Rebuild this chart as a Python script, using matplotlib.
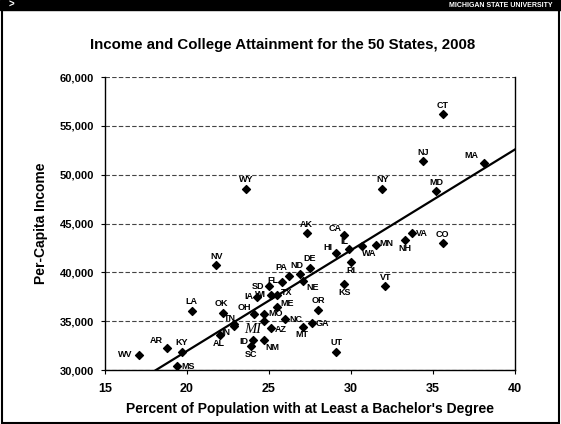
import numpy as np
import matplotlib
matplotlib.use('Agg')
import matplotlib.pyplot as plt

plt.rcParams['font.family'] = ['Liberation Sans', 'DejaVu Sans']
plt.rcParams['font.weight'] = 'bold'

# data
states = ['AL', 'AK', 'AZ', 'AR', 'CA', 'CO', 'CT', 'DE', 'FL', 'GA',
          'HI', 'ID', 'IL', 'IN', 'IA', 'KS', 'KY', 'LA', 'ME', 'MD',
          'MA', 'MI', 'MN', 'MS', 'MO', 'MT', 'NE', 'NV', 'NH', 'NJ',
          'NM', 'NY', 'NC', 'ND', 'OH', 'OK', 'OR', 'PA', 'RI', 'SC',
          'SD', 'TN', 'TX', 'UT', 'VT', 'VA', 'WA', 'WV', 'WI', 'WY']
bachelor = [22.0, 27.3, 25.1, 18.8, 29.6, 35.6, 35.6, 27.5, 25.8, 27.6,
            29.1, 24.0, 29.9, 22.9, 24.3, 29.6, 19.7, 20.3, 25.5, 35.2,
            38.1, 24.7, 31.5, 19.4, 24.7, 27.1, 27.1, 21.8, 33.3, 34.4,
            24.7, 31.9, 26.0, 26.9, 24.1, 22.2, 28.0, 26.2, 30.0, 23.9,
            25.0, 22.9, 25.5, 29.1, 32.1, 33.7, 30.7, 17.1, 25.1, 23.6]
income = [33600, 44000, 34300, 32300, 43800, 43000, 56200, 40500, 39000, 34800,
          42000, 33100, 42400, 34500, 37500, 38800, 31900, 36100, 36500, 48300,
          51200, 35000, 42800, 30400, 35800, 34400, 39100, 40800, 43300, 51400,
          33100, 48600, 35200, 39800, 35700, 35900, 36200, 39600, 41100, 32500,
          38600, 34700, 37700, 31900, 38600, 44000, 42700, 31600, 37700, 48600]
trend_x = [18.1, 40.0]
trend_y = [30000, 52600]
yticks = [30000, 35000, 40000, 45000, 50000, 55000, 60000]
xticks = [15, 20, 25, 30, 35, 40]

# label placement: (dx, dy in points, ha, va); default is centred above
label_pos = {
    'MA': (-4, 2, 'right', 'bottom'), 'NH': (0, -3, 'center', 'top'),
    'VA': (3, 0, 'left', 'center'), 'MN': (3, 1, 'left', 'center'),
    'WA': (0, -2, 'left', 'top'), 'IL': (-1, 2, 'right', 'bottom'),
    'HI': (-3, 1, 'right', 'bottom'), 'CA': (-2, 2, 'right', 'bottom'),
    'RI': (0, -3, 'center', 'top'), 'KS': (0, -3, 'center', 'top'),
    'GA': (3, 0, 'left', 'center'), 'MT': (-1, -2, 'center', 'top'),
    'NC': (3, 0, 'left', 'center'), 'NE': (2, -1, 'left', 'top'),
    'ND': (-2, 3, 'center', 'bottom'), 'PA': (-1, 3, 'right', 'bottom'),
    'FL': (-3, 1, 'right', 'center'), 'SD': (-3, 0, 'right', 'center'),
    'WI': (-3, 0, 'right', 'center'), 'IA': (-3, 0, 'right', 'center'),
    'TX': (3, 2, 'left', 'center'), 'ME': (2, -1, 'left', 'bottom'),
    'MO': (3, 0, 'left', 'center'), 'OH': (-2, 2, 'right', 'bottom'),
    'OK': (-1, 3, 'center', 'bottom'), 'TN': (-3, 1, 'center', 'bottom'),
    'IN': (-3, -1, 'right', 'top'), 'AZ': (3, -1, 'left', 'center'),
    'NM': (1, -2, 'left', 'top'), 'ID': (-3, -1, 'right', 'center'),
    'SC': (0, -3, 'center', 'top'), 'AL': (-1, -3, 'center', 'top'),
    'MS': (3, 0, 'left', 'center'), 'AR': (-3, 2, 'right', 'bottom'),
    'WV': (-5, 0, 'right', 'center'),
}

fig = plt.figure(figsize=(5.61, 4.24), dpi=100)
ax = fig.add_axes([0.187, 0.127, 0.731, 0.691])

ax.grid(axis='y', color='#444444', linestyle=(0, (4, 2)), linewidth=0.8)
ax.set_axisbelow(True)

ax.scatter(bachelor, income, marker='D', s=16, color='black', zorder=3)

for st, x, y in zip(states, bachelor, income):
    dx, dy, ha, va = label_pos.get(st, (0, 3, 'center', 'bottom'))
    if st == 'MI':
        ax.annotate(st, (x, y), xytext=(-2, -1), textcoords='offset points',
                    ha='right', va='top', fontsize=10.5, style='italic',
                    fontweight='normal', family='Liberation Serif')
        continue
    ax.annotate(st, (x, y), xytext=(dx, dy), textcoords='offset points',
                ha=ha, va=va, fontsize=6.5, fontweight='bold')

ax.plot(trend_x, trend_y, color='black', linewidth=1.6, zorder=2)

ax.set_xlim(15, 40)
ax.set_ylim(30000, 60000)
ax.set_xticks(xticks)
ax.set_yticks(yticks)
ax.set_yticklabels(['{:,}'.format(v) for v in yticks])
ax.tick_params(axis='y', labelsize=8, length=3, pad=5)
ax.tick_params(axis='x', labelsize=9, length=3, pad=6)
for lab in ax.get_xticklabels() + ax.get_yticklabels():
    lab.set_fontweight('bold')
ax.spines['top'].set_visible(False)
for s in ['left', 'bottom', 'right']:
    ax.spines[s].set_linewidth(1.0)

ax.set_xlabel("Percent of Population with at Least a Bachelor's Degree",
              fontsize=10, fontweight='bold', labelpad=5)
ax.set_ylabel('Per-Capita Income', fontsize=10, fontweight='bold', labelpad=8)
fig.text(0.503, 0.893, 'Income and College Attainment for the 50 States, 2008',
         ha='center', va='center', fontsize=10.8, fontweight='bold')

# slide frame and header bar
fig.patches.append(plt.Rectangle((0, 0.977), 1, 0.023, transform=fig.transFigure,
                                 color='black', zorder=0))
fig.patches.append(plt.Rectangle((0.003, 0.003), 0.994, 0.994, transform=fig.transFigure,
                                 fill=False, edgecolor='black', linewidth=1.5))
fig.text(0.985, 0.988, 'MICHIGAN STATE UNIVERSITY', ha='right', va='center',
         fontsize=5, color='white', fontweight='bold')
fig.text(0.015, 0.988, '>', ha='left', va='center', fontsize=7, color='white',
         fontweight='bold')

fig.savefig('out.png', dpi=100)
